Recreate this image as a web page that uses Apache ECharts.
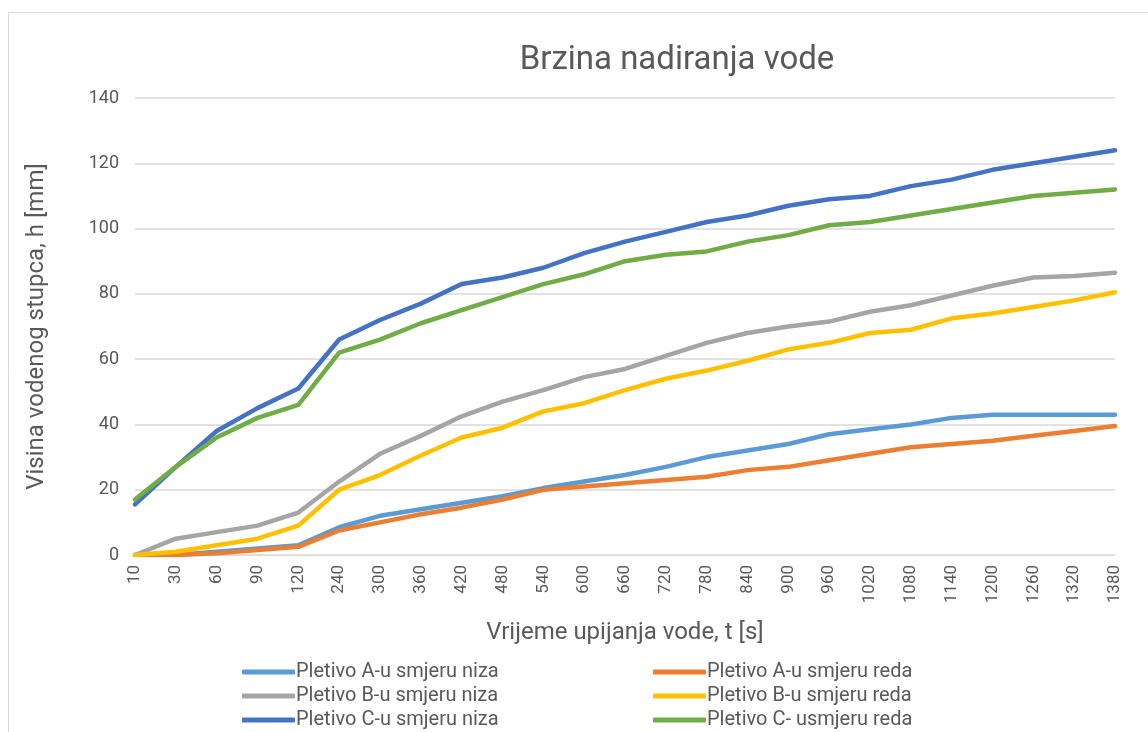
<!DOCTYPE html>
<html>
<head>
<meta charset="utf-8">
<script src="https://cdn.jsdelivr.net/npm/echarts@6/dist/echarts.min.js"></script>
<style>
  html, body { margin: 0; padding: 0; background: #fff; }
  #main { width: 1148px; height: 732px; }
</style>
</head>
<body>
<div id="main"></div>
<script>
// vrijeme upijanja (s)
var vrijeme = ['10','30','60','90','120','240','300','360','420','480','540','600','660','720','780','840','900','960','1020','1080','1140','1200','1260','1320','1380'];

var aNiza = [0, 0, 1, 2, 3, 8.5, 12, 14, 16, 18, 20.5, 22.5, 24.5, 27, 30, 32, 34, 37, 38.5, 40, 42, 43, 43, 43, 43];
var aReda = [0, 0, 0.5, 1.5, 2.5, 7.5, 10, 12.5, 14.5, 17, 20, 21, 22, 23, 24, 26, 27, 29, 31, 33, 34, 35, 36.5, 38, 39.5];
var bNiza = [0, 5, 7, 9, 13, 22.5, 31, 36.5, 42.5, 47, 50.5, 54.5, 57, 61, 65, 68, 70, 71.5, 74.5, 76.5, 79.5, 82.5, 85, 85.5, 86.5];
var bReda = [0, 1, 3, 5, 9, 20, 24.5, 30.5, 36, 39, 44, 46.5, 50.5, 54, 56.5, 59.5, 63, 65, 68, 69, 72.5, 74, 76, 78, 80.5];
var cNiza = [15.5, 27, 38, 45, 51, 66, 72, 77, 83, 85, 88, 92.5, 96, 99, 102, 104, 107, 109, 110, 113, 115, 118, 120, 122, 124];
var cReda = [17, 27, 36, 42, 46, 62, 66, 71, 75, 79, 83, 86, 90, 92, 93, 96, 98, 101, 102, 104, 106, 108, 110, 111, 112];

var imena = ['Pletivo A-u smjeru niza', 'Pletivo A-u smjeru reda', 'Pletivo B-u smjeru niza',
             'Pletivo B-u smjeru reda', 'Pletivo C-u smjeru niza', 'Pletivo C- usmjeru reda'];
var boje = ['#5B9BD5', '#ED7D31', '#A5A5A5', '#FFC000', '#4472C4', '#70AD47'];
var podaci = [aNiza, aReda, bNiza, bReda, cNiza, cReda];

var font = 'Roboto, "Liberation Sans", sans-serif';
var myChart = echarts.init(document.getElementById('main'));

var serije = [];
for (let i = 0; i < podaci.length; i++) {
  serije.push({
    name: imena[i],
    type: 'line',
    data: podaci[i],
    symbol: 'none',
    color: boje[i],
    lineStyle: { width: 4.5, cap: 'round', join: 'round' }
  });
}

var legenda = function (left, list) {
  return {
    orient: 'vertical',
    left: left,
    top: 657,
    height: 100,
    data: list,
    icon: 'roundRect',
    itemWidth: 53,
    itemHeight: 5,
    itemGap: 4,
    textStyle: { fontFamily: font, fontSize: 20, color: '#595959', padding: [0, 0, 0, -4] }
  };
};

var option = {
  animation: false,
  title: {
    text: 'Brzina nadiranja vode',
    left: 672,
    textAlign: 'center',
    top: 39,
    textStyle: { fontFamily: font, fontSize: 33, fontWeight: 'normal', color: '#595959' }
  },
  graphic: [{
    type: 'polyline',
    shape: { points: [[8.5, 732], [8.5, 12.5], [1148, 12.5]] },
    style: { stroke: '#d9d9d9', lineWidth: 1, fill: null }
  }],
  grid: { left: 135, right: 33, top: 98, bottom: 177 },
  legend: [
    legenda(237, [imena[0], imena[2], imena[4]]),
    legenda(648, [imena[1], imena[3], imena[5]])
  ],
  xAxis: {
    type: 'category',
    data: vrijeme,
    boundaryGap: false,
    name: 'Vrijeme upijanja vode, t [s]',
    nameLocation: 'middle',
    nameGap: 66,
    nameTextStyle: { fontFamily: font, fontSize: 24, color: '#595959' },
    axisLine: { lineStyle: { color: '#d9d9d9', width: 1 } },
    axisTick: { show: false },
    axisLabel: { rotate: 90, margin: 10, fontFamily: font, fontSize: 17, color: '#595959' }
  },
  yAxis: {
    type: 'value',
    min: 0,
    max: 140,
    interval: 20,
    name: 'Visina vodenog stupca, h [mm]',
    nameLocation: 'middle',
    nameGap: 86,
    nameTextStyle: { fontFamily: font, fontSize: 24, color: '#595959' },
    axisLine: { show: false },
    axisTick: { show: false },
    axisLabel: { margin: 16, fontFamily: font, fontSize: 18, color: '#595959' },
    splitLine: { lineStyle: { color: '#d9d9d9', width: 1.5 } }
  },
  series: serije
};
myChart.setOption(option);
</script>
</body>
</html>
